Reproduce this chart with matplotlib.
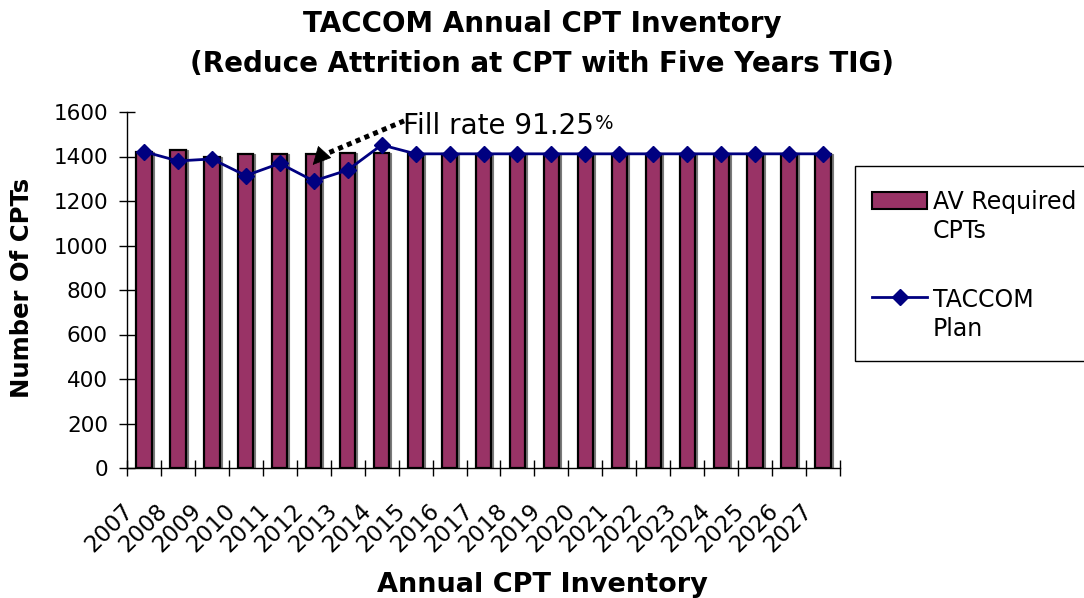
import matplotlib
matplotlib.use("Agg")
import matplotlib.pyplot as plt
import matplotlib.transforms as mtransforms
from matplotlib.patches import Rectangle
from matplotlib.lines import Line2D
import numpy as np

# ---------------- data ----------------
years = [str(y) for y in range(2007, 2028)]
av_required = [1420, 1430, 1400, 1410, 1410, 1410, 1417, 1417, 1410, 1410, 1410,
               1410, 1410, 1410, 1410, 1410, 1410, 1410, 1410, 1410, 1410]
taccom_plan = [1422, 1380, 1389, 1314, 1369, 1290, 1339, 1452, 1412, 1412, 1412,
               1412, 1412, 1412, 1412, 1412, 1412, 1412, 1412, 1412, 1412]
y_ticks = [0, 200, 400, 600, 800, 1000, 1200, 1400, 1600]

title_lines = ["TACCOM Annual CPT Inventory", "(Reduce Attrition at CPT with Five Years TIG)"]
x_label = "Annual CPT Inventory"
y_label = "Number Of CPTs"
legend_labels = [["AV Required", "CPTs"], ["TACCOM", "Plan"]]
note_text = "Fill rate 91.25"

BAR_COLOR = "#993366"
LINE_COLOR = "#000080"

plt.rcParams['font.family'] = ['DejaVu Sans']

W, H = 1084, 598
fig = plt.figure(figsize=(W / 100, H / 100), dpi=100)

def fx(px):
    return px / W

def fy(py):
    return 1 - py / H

ax = fig.add_axes([fx(127), fy(468), fx(840) - fx(127), fy(112) - fy(468)])

x = np.arange(len(years))

# bar shadow
shadow = mtransforms.ScaledTranslation(2 / 100, 0, fig.dpi_scale_trans)
ax.bar(x, av_required, width=0.45, color="#7a7a7a", edgecolor="#7a7a7a",
       linewidth=0.8, transform=ax.transData + shadow, zorder=1)
ax.bar(x, av_required, width=0.45, color=BAR_COLOR, edgecolor="black",
       linewidth=1.6, zorder=2)
ax.plot(x, taccom_plan, color=LINE_COLOR, linewidth=2, marker="D",
        markersize=8, markerfacecolor=LINE_COLOR, markeredgecolor=LINE_COLOR,
        zorder=3, clip_on=False)

ax.set_xlim(-0.5, len(years) - 0.5)
ax.set_ylim(0, 1600)
ax.set_yticks(y_ticks)
ax.set_yticklabels([str(v) for v in y_ticks])

ax.set_xticks(x)
ax.set_xticklabels(years, rotation=45, ha="right", va="center",
                   rotation_mode="anchor")
ax.set_xticks(np.arange(-0.5, len(years)), minor=True)
ax.tick_params(axis="x", which="major", length=0, pad=27, labelsize=16.5)
ax.tick_params(axis="x", which="minor", length=11.5, direction="inout",
               width=1, color="black")
ax.tick_params(axis="y", which="major", length=11.5, direction="inout",
               width=1, pad=8, labelsize=15.5)
off = mtransforms.ScaledTranslation(-14 / 100, -2 / 100, fig.dpi_scale_trans)
for lab in ax.get_xticklabels():
    lab.set_transform(lab.get_transform() + off)

for s in ["top", "right"]:
    ax.spines[s].set_visible(False)
for s in ["left", "bottom"]:
    ax.spines[s].set_color("black")
    ax.spines[s].set_linewidth(1)

# annotation: dotted leader + solid arrow head
ax.plot([7.66, 5.15], [1560, 1398], color="black", linewidth=3.6,
        linestyle=(0, (1, 0.9)), dash_capstyle="butt", zorder=5,
        clip_on=False)
ax.annotate("", xy=(4.97, 1362), xytext=(5.3, 1417),
            arrowprops=dict(arrowstyle="-|>,head_length=0.6,head_width=0.3",
                            mutation_scale=20, linewidth=0.5, color="black",
                            shrinkA=0, shrinkB=0), zorder=5)
t1 = ax.text(7.63, 1501, note_text, fontsize=20, va="baseline", ha="left",
             zorder=6)
ax.annotate("%", xy=(1.0, 0.0), xycoords=t1, xytext=(1, 5),
            textcoords="offset points", fontsize=14, va="bottom", ha="left")

# titles
fig.text(0.5, fy(32), title_lines[0], ha="center", va="baseline",
         fontsize=20, fontweight="bold")
fig.text(0.5, fy(72), title_lines[1], ha="center", va="baseline",
         fontsize=20, fontweight="bold")
fig.text(0.5, fy(592), x_label, ha="center", va="baseline",
         fontsize=19.5, fontweight="bold")
fig.text(fx(22), fy(288), y_label, ha="center", va="center", rotation=90,
         fontsize=17.5, fontweight="bold")

# legend (manual box)
fig.patches.append(Rectangle((fx(855), fy(361)), fx(1100) - fx(855),
                             fy(166) - fy(361), transform=fig.transFigure,
                             facecolor="white", edgecolor="black",
                             linewidth=1, zorder=1))
fig.patches.append(Rectangle((fx(872), fy(209)), fx(927) - fx(872),
                             fy(192) - fy(209), transform=fig.transFigure,
                             facecolor=BAR_COLOR, edgecolor="black",
                             linewidth=1.5, zorder=2))
fig.lines.append(Line2D([fx(872), fx(927)], [fy(297), fy(297)],
                        transform=fig.transFigure, color=LINE_COLOR,
                        linewidth=2, zorder=2))
fig.lines.append(Line2D([fx(899.5)], [fy(297)], transform=fig.transFigure,
                        color=LINE_COLOR, marker="D", markersize=8,
                        linestyle="none", zorder=3))
for py, txt in zip([209, 238], legend_labels[0]):
    fig.text(fx(933), fy(py), txt, ha="left", va="baseline", fontsize=17)
for py, txt in zip([307, 336], legend_labels[1]):
    fig.text(fx(933), fy(py), txt, ha="left", va="baseline", fontsize=17)

fig.savefig("out.png", dpi=100)
